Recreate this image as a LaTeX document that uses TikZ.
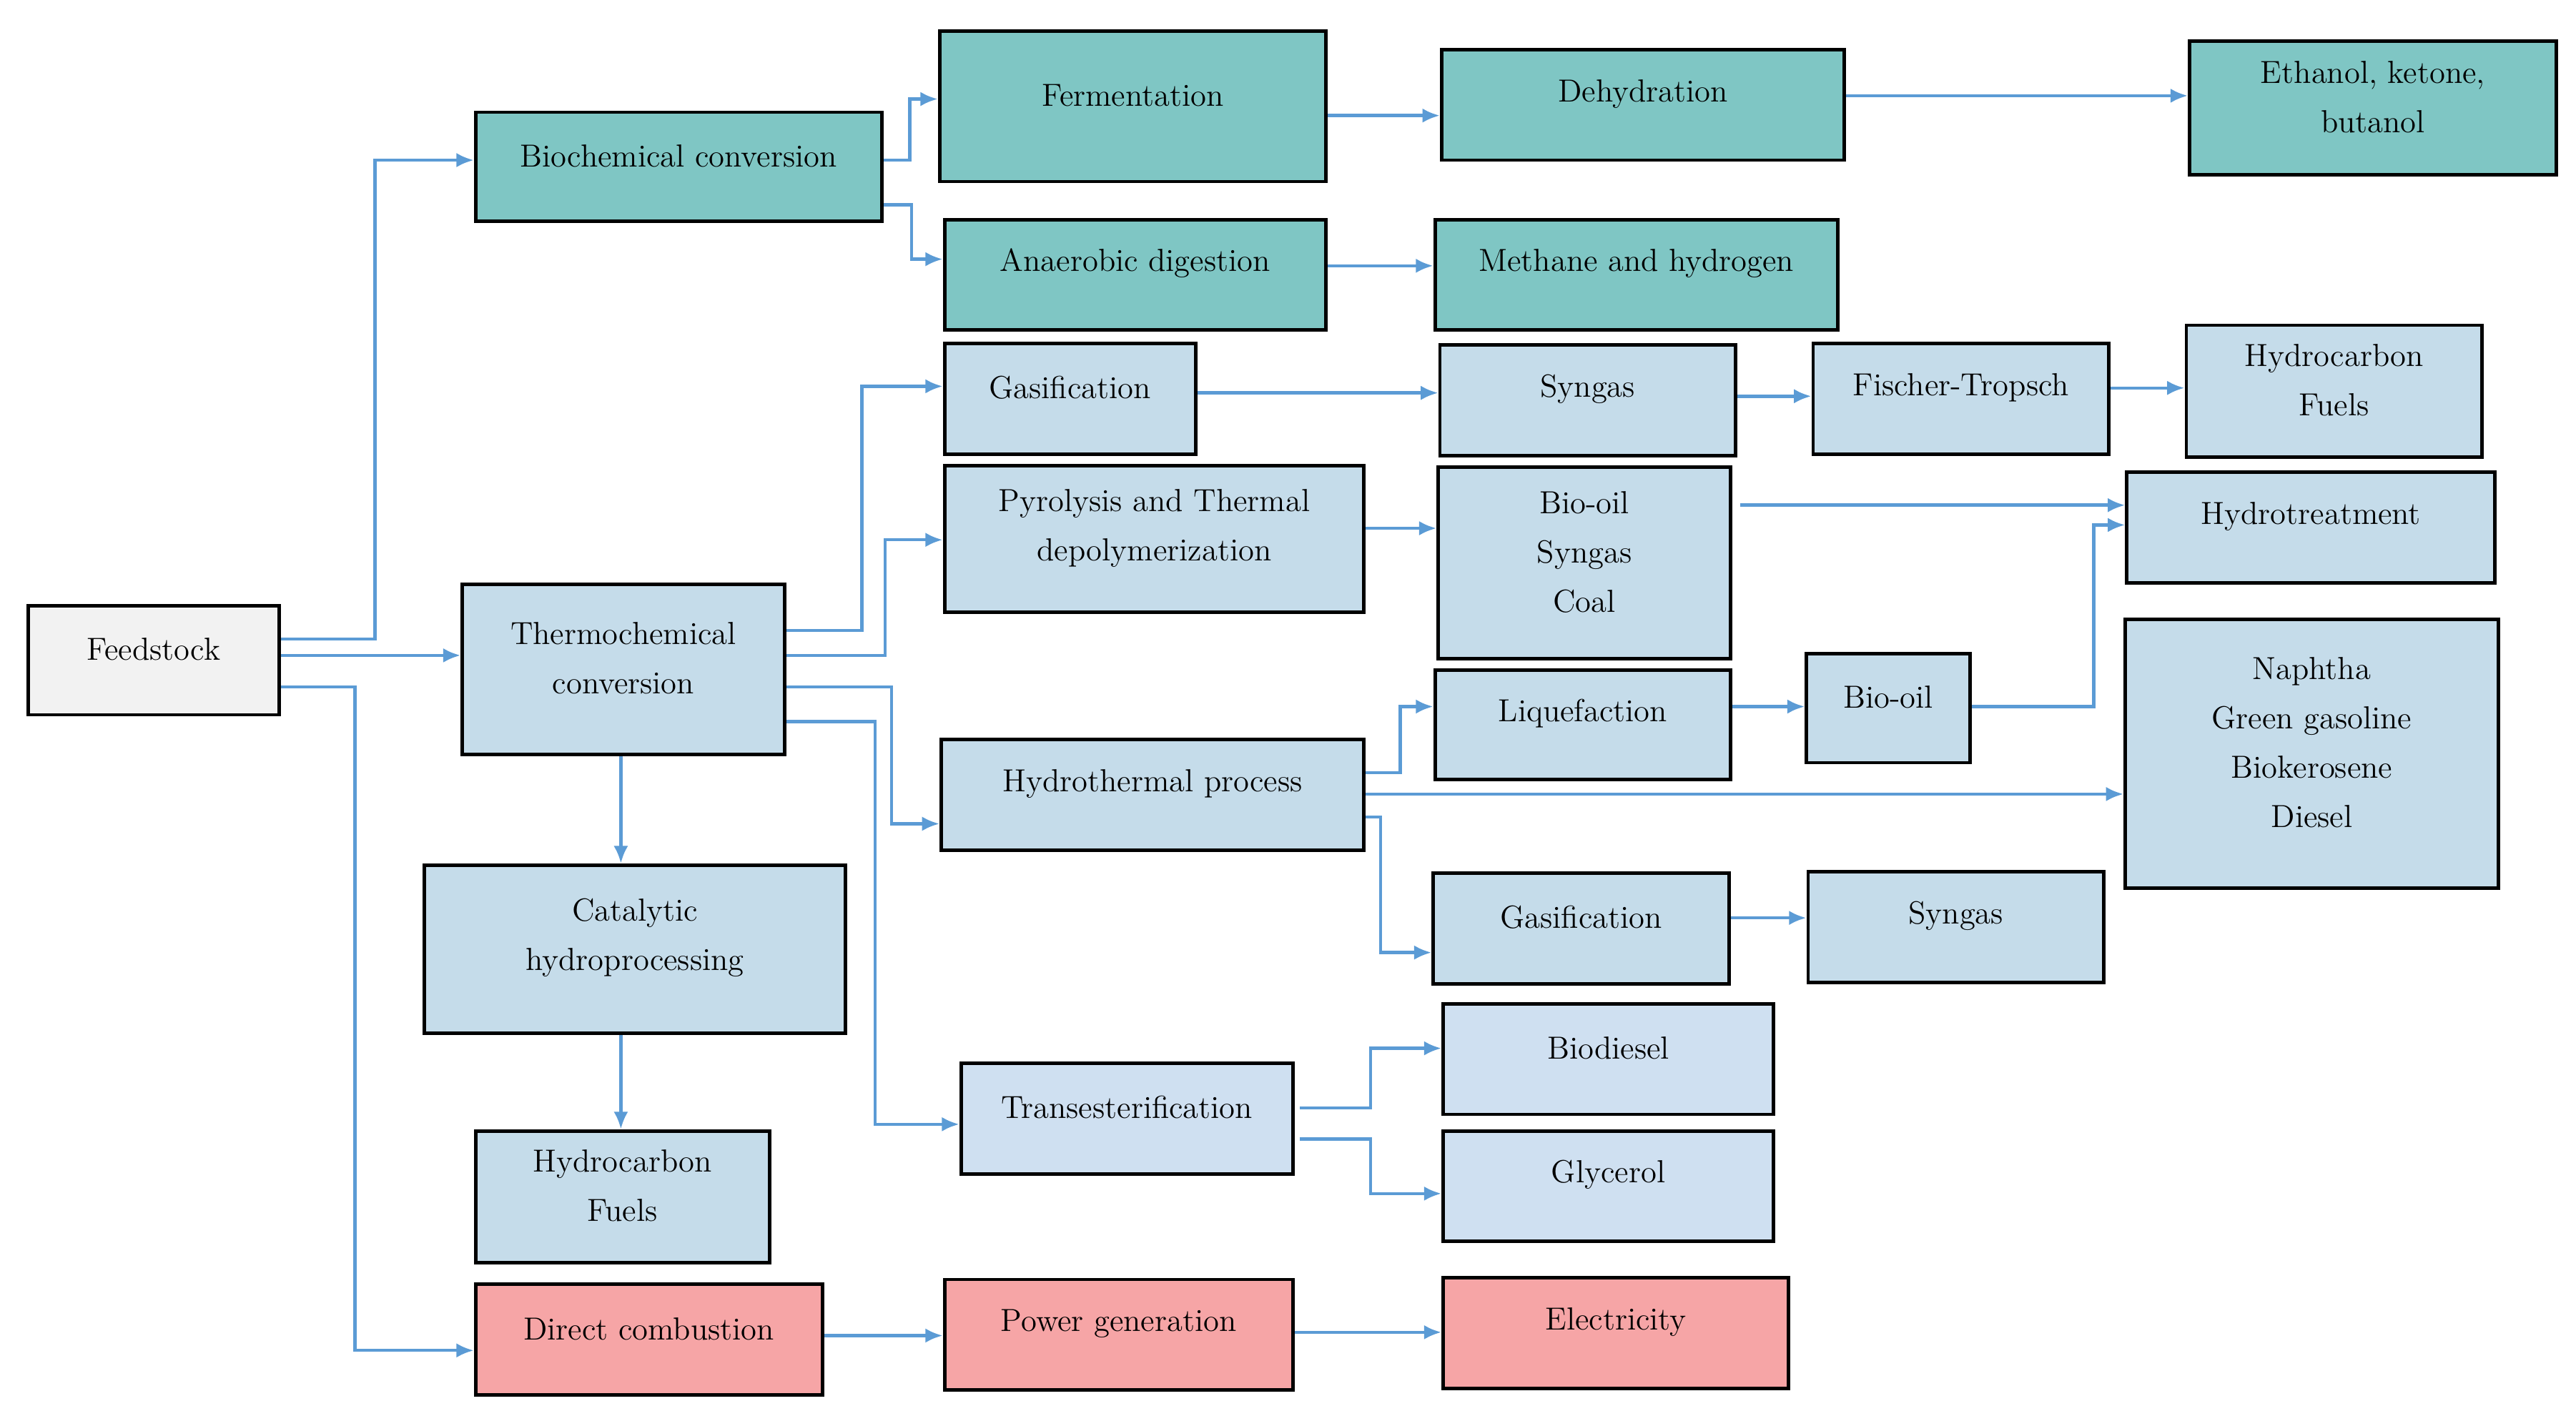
\documentclass[tikz,border=0pt]{standalone}
\usetikzlibrary{fit,arrows.meta}
\definecolor{tealb}{HTML}{7FC6C4}
\definecolor{lblue}{HTML}{C5DCEA}
\definecolor{lblue2}{HTML}{CFE0F1}
\definecolor{pinkb}{HTML}{F6A5A6}
\definecolor{greyb}{HTML}{F2F2F2}
\definecolor{arrc}{HTML}{5B9BD5}
\begin{document}
\begin{tikzpicture}[x=0.02cm,y=-0.02cm,
  box/.style={draw=black,line width=1.2pt,inner sep=0pt,align=center,font=\fontsize{11}{17}\selectfont},
  arr/.style={draw=arrc,line width=1.1pt,-{Latex[length=6pt,width=5pt]}}]
\useasboundingbox (0,0) rectangle (1560,854.3);
\newcommand\bx[7]{\path (#2,#3) coordinate (#1-a) (#4,#5) coordinate (#1-b);
  \node[box,fill=#6,fit=(#1-a)(#1-b)] (#1) {#7};}
\bx{feed}{17}{367}{169}{433}{greyb}{Feedstock}
\bx{bio}{288}{68}{534}{134}{tealb}{Biochemical conversion}
\bx{ferm}{569}{19}{803}{110}{tealb}{Fermentation}
\bx{dehyd}{873}{30}{1117}{97}{tealb}{Dehydration}
\bx{eth}{1326}{25}{1548}{106}{tealb}{Ethanol, ketone,\\butanol}
\bx{anaer}{572}{133}{803}{200}{tealb}{Anaerobic digestion}
\bx{meth}{869}{133}{1113}{200}{tealb}{Methane and hydrogen}
\bx{thermo}{280}{354}{475}{457}{lblue}{Thermochemical\\conversion}
\bx{gasa}{572}{208}{724}{275}{lblue}{Gasification}
\bx{syna}{872}{209}{1051}{276}{lblue}{Syngas}
\bx{fisch}{1098}{208}{1277}{275}{lblue}{Fischer-Tropsch}
\bx{hcfa}{1324}{197}{1503}{277}{lblue}{Hydrocarbon\\Fuels}
\bx{pyro}{572}{282}{826}{371}{lblue}{Pyrolysis and Thermal\\depolymerization}
\bx{biooil}{871}{283}{1048}{399}{lblue}{Bio-oil\\Syngas\\Coal}
\bx{hydrot}{1288}{286}{1511}{353}{lblue}{Hydrotreatment}
\bx{liq}{869}{406}{1048}{472}{lblue}{Liquefaction}
\bx{biooilb}{1094}{396}{1193}{462}{lblue}{Bio-oil}
\bx{naph}{1287}{375}{1513}{538}{lblue}{Naphtha\\Green gasoline\\Biokerosene\\Diesel}
\bx{hydroth}{570}{448}{826}{515}{lblue}{Hydrothermal process}
\bx{gasb}{868}{529}{1047}{596}{lblue}{Gasification}
\bx{synb}{1095}{528}{1274}{595}{lblue}{Syngas}
\bx{catal}{257}{524}{512}{626}{lblue}{Catalytic\\hydroprocessing}
\bx{hcfb}{288}{685}{466}{765}{lblue}{Hydrocarbon\\Fuels}
\bx{trans}{582}{644}{783}{711}{lblue2}{Transesterification}
\bx{biod}{874}{608}{1074}{675}{lblue2}{Biodiesel}
\bx{glyc}{874}{685}{1074}{752}{lblue2}{Glycerol}
\bx{direct}{288}{778}{498}{845}{pinkb}{Direct combustion}
\bx{power}{572}{775}{783}{842}{pinkb}{Power generation}
\bx{elec}{874}{774}{1083}{841}{pinkb}{Electricity}
% arrows
\draw[arr] (feed.east|-0,387) -- (227,387) -- (227,97) -- (bio.west|-0,97);
\draw[arr] (feed.east|-0,397) -- (thermo.west|-0,397);
\draw[arr] (feed.east|-0,416) -- (215,416) -- (215,818) -- (direct.west|-0,818);
\draw[arr] (bio.east|-0,97) -- (551,97) -- (551,60) -- (ferm.west|-0,60);
\draw[arr] (bio.east|-0,124) -- (552,124) -- (552,157) -- (anaer.west|-0,157);
\draw[arr] (ferm.east|-0,70) -- (dehyd.west|-0,70);
\draw[arr] (dehyd.east|-0,58) -- (eth.west|-0,58);
\draw[arr] (anaer.east|-0,161) -- (meth.west|-0,161);
\draw[arr] (thermo.east|-0,382) -- (522,382) -- (522,234) -- (gasa.west|-0,234);
\draw[arr] (thermo.east|-0,397) -- (536,397) -- (536,327) -- (pyro.west|-0,327);
\draw[arr] (thermo.east|-0,416) -- (540,416) -- (540,499) -- (hydroth.west|-0,499);
\draw[arr] (thermo.east|-0,437) -- (530,437) -- (530,681) -- (trans.west|-0,681);
\draw[arr] (thermo.south-|376,0) -- (catal.north-|376,0);
\draw[arr] (catal.south-|376,0) -- (hcfb.north-|376,0);
\draw[arr] (gasa.east|-0,238) -- (syna.west|-0,238);
\draw[arr] (syna.east|-0,240) -- (fisch.west|-0,240);
\draw[arr] (fisch.east|-0,235) -- (hcfa.west|-0,235);
\draw[arr] (pyro.east|-0,320) -- (biooil.west|-0,320);
\draw[arr] (1054,306) -- (hydrot.west|-0,306);
\draw[arr] (liq.east|-0,428) -- (biooilb.west|-0,428);
\draw[arr] (biooilb.east|-0,428) -- (1268,428) -- (1268,318) -- (hydrot.west|-0,318);
\draw[arr] (hydroth.east|-0,468) -- (848,468) -- (848,428) -- (liq.west|-0,428);
\draw[arr] (hydroth.east|-0,481) -- (naph.west|-0,481);
\draw[arr] (hydroth.east|-0,495) -- (836,495) -- (836,577) -- (gasb.west|-0,577);
\draw[arr] (gasb.east|-0,556) -- (synb.west|-0,556);
\draw[arr] (787,671) -- (830,671) -- (830,635) -- (biod.west|-0,635);
\draw[arr] (787,690) -- (830,690) -- (830,723) -- (glyc.west|-0,723);
\draw[arr] (direct.east|-0,809) -- (power.west|-0,809);
\draw[arr] (power.east|-0,807) -- (elec.west|-0,807);
\end{tikzpicture}
\end{document}
